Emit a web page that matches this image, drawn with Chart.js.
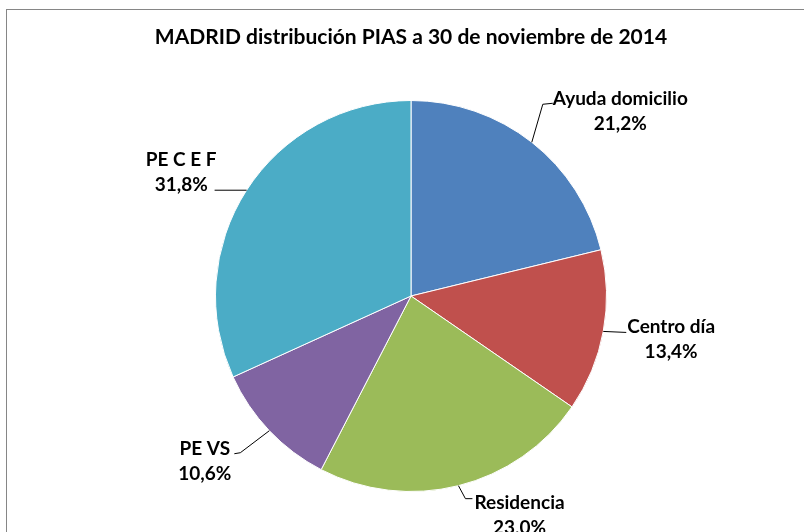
<!DOCTYPE html>
<html>
<head>
<meta charset="utf-8">
<script src="https://cdn.jsdelivr.net/npm/chart.js@4/dist/chart.umd.min.js"></script>
<style>
  html, body { margin: 0; padding: 0; background: #fff; }
</style>
</head>
<body>
<canvas id="chart" width="804" height="532"></canvas>
<script>
const chartTitle = 'MADRID distribución PIAS a 30 de noviembre de 2014';
const categories = ['Ayuda domicilio', 'Centro día', 'Residencia', 'PE VS', 'PE C E F'];
const shares = [21.2, 13.4, 23.0, 10.6, 31.8];
const colors = ['#4F81BD', '#C0504D', '#9BBB59', '#8064A2', '#4BACC6'];

const FONT = 'Lato, "Open Sans", sans-serif';

// leader line bends (relative to the slice edge) and where the text block sits
const labelLayout = [
  { path: [[11, -38], [21, -39]], side: 'left', gap: 0, ty: -4 },
  { path: [[23, 1]], side: 'left', gap: 1, ty: -6 },
  { path: [[7, 13], [14, 13]], side: 'left', gap: 2, ty: 4 },
  { path: [[-29, 22], [-35, 23]], side: 'right', gap: 3, ty: -5 },
  { path: [[-32, 0]], side: 'right', gap: -2, ty: -30 },
];

const pct = v => v.toFixed(1).replace('.', ',') + '%';

const frame = {
  id: 'frame',
  beforeDraw(chart) {
    const ctx = chart.ctx;
    ctx.save();
    ctx.fillStyle = '#fff';
    ctx.fillRect(0, 0, chart.width, chart.height);
    ctx.strokeStyle = '#868686';
    ctx.lineWidth = 1;
    ctx.strokeRect(6.5, 9.5, chart.width, chart.height);
    ctx.restore();
  }
};

const leaderLabels = {
  id: 'leaderLabels',
  afterDatasetsDraw(chart) {
    const ctx = chart.ctx;
    const arcs = chart.getDatasetMeta(0).data;
    ctx.save();
    ctx.font = 'bold 19px ' + FONT;
    ctx.fillStyle = '#000';
    ctx.strokeStyle = '#000';
    ctx.lineWidth = 1;
    ctx.textAlign = 'center';
    ctx.textBaseline = 'middle';
    arcs.forEach((arc, i) => {
      const { x, y, startAngle, endAngle, outerRadius } =
        arc.getProps(['x', 'y', 'startAngle', 'endAngle', 'outerRadius'], true);
      const mid = (startAngle + endAngle) / 2;
      const px = x + Math.cos(mid) * outerRadius;
      const py = y + Math.sin(mid) * outerRadius;
      const lay = labelLayout[i];
      let ex = px, ey = py;
      ctx.beginPath();
      ctx.moveTo(px, py);
      lay.path.forEach(([dx, dy]) => {
        ex = px + dx;
        ey = py + dy;
        ctx.lineTo(ex, ey);
      });
      ctx.stroke();
      const lines = [categories[i], pct(shares[i])];
      const w = Math.max(...lines.map(t => ctx.measureText(t).width));
      const cx = lay.side === 'left' ? ex + lay.gap + w / 2 : ex - lay.gap - w / 2;
      lines.forEach((t, k) => ctx.fillText(t, cx, ey + lay.ty + k * 25));
    });
    ctx.restore();
  }
};

new Chart(document.getElementById('chart'), {
  type: 'pie',
  data: {
    labels: categories,
    datasets: [{
      data: shares,
      backgroundColor: colors,
      borderColor: '#fff',
      borderWidth: 1,
    }]
  },
  options: {
    responsive: false,
    devicePixelRatio: 1,
    animation: false,
    layout: { padding: { left: 18, right: 0, top: 0, bottom: 40 } },
    plugins: {
      legend: { display: false },
      tooltip: { enabled: false },
      title: {
        display: true,
        text: chartTitle,
        color: '#000',
        font: { family: FONT, size: 21, weight: 'bold', lineHeight: 1.2 },
        padding: { top: 25, bottom: 49.8 },
      },
    },
  },
  plugins: [frame, leaderLabels],
});
</script>
</body>
</html>
